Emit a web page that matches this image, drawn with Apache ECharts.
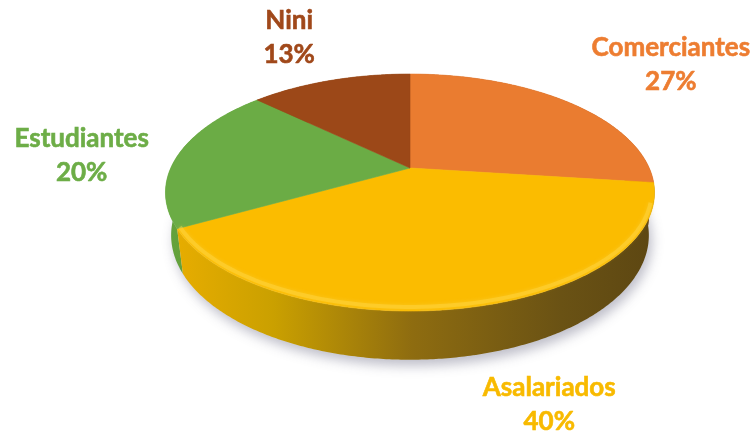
<!DOCTYPE html>
<html>
<head>
<meta charset="utf-8">
<script src="https://cdn.jsdelivr.net/npm/echarts/dist/echarts.min.js"></script>
<style>
  html, body { margin: 0; padding: 0; background: #ffffff; }
  #chart { width: 755px; height: 437px; }
</style>
</head>
<body>
<div id="chart"></div>
<script>
// Slices, clockwise from 12 o'clock
const categories = ['Comerciantes', 'Asalariados', 'Estudiantes', 'Nini'];
const shares = [27, 40, 20, 13];

// Appearance of each slice (top face, side wall, label)
const topColors = ['#EA7C30', '#FBBC00', '#6BAC45', '#9C4818'];
const labelColors = ['#ED7D31', '#F8BA00', '#6DAD47', '#A0481A'];
const sideStops = [
  [[0, '#c0621f'], [1, '#9a4a15']],
  [[0, '#eaae00'], [0.22, '#caa000'], [0.5, '#8e6c10'], [0.8, '#6a5214'], [1, '#5c4612']],
  [[0, '#64a23c'], [1, '#4e8a2c']],
  [[0, '#86400f'], [1, '#70350c']]
];
// Label block offset from the slice's rim point (px)
const labelNudge = [[103, -37], [83, 97], [-97, 1], [-41, -43]];

// Tilted-disc projection
const CX = 410, CY = 168;        // screen position of the disc centre
const K = 1018;                  // focal scale
const R = 0.235, H = 0.048;      // disc radius and thickness (camera distance = 1)
const TILT = 28.3 * Math.PI / 180;
const sinT = Math.sin(TILT), cosT = Math.cos(TILT);

function project(theta, bottom) {
  const x = R * Math.sin(theta);
  const z = -R * Math.cos(theta);
  const y = bottom ? -H : 0;
  const sy = y * cosT - z * sinT;
  const depth = 1 - (y * sinT + z * cosT);
  return [CX + K * x / depth, CY - K * sy / depth];
}

function arc(a1, a2, bottom) {
  const pts = [];
  const n = Math.max(4, Math.ceil(Math.abs(a2 - a1) / 0.01));
  for (let i = 0; i <= n; i++) pts.push(project(a1 + (a2 - a1) * i / n, bottom));
  return pts;
}

const total = shares.reduce((s, v) => s + v, 0);
const starts = [];
shares.reduce((acc, v, i) => { starts[i] = acc; return acc + v; }, 0);

function renderSlice(params, api) {
  const i = params.dataIndex;
  const v = api.value(0);
  const a1 = starts[i] / total * Math.PI * 2;
  const a2 = (starts[i] + v) / total * Math.PI * 2;
  const mid = (a1 + a2) / 2;
  const children = [];

  if (i === 0) {
    // soft drop shadow under the whole disc
    children.push({
      type: 'polygon',
      shape: { points: arc(0, Math.PI * 2, true) },
      style: {
        fill: '#d8d8e0',
        shadowColor: 'rgba(70,70,100,0.35)',
        shadowBlur: 12,
        shadowOffsetX: 3,
        shadowOffsetY: 6
      },
      z2: 1
    });
  }

  // side wall
  const topEdge = arc(a1, a2, false);
  const botEdge = arc(a2, a1, true);
  children.push({
    type: 'polygon',
    shape: { points: topEdge.concat(botEdge) },
    style: {
      fill: new echarts.graphic.LinearGradient(165, 0, 660, 0,
        sideStops[i].map(s => ({ offset: s[0], color: s[1] })), true)
    },
    z2: 10 - Math.cos(mid) * 5
  });

  // top face
  children.push({
    type: 'polygon',
    shape: { points: [[CX, CY]].concat(topEdge) },
    style: { fill: topColors[i], stroke: topColors[i], lineWidth: 0.6 },
    z2: 30
  });

  // soft bevel along the front rim
  if (Math.cos(mid) < 0) {
    const lo = Math.max(a1, Math.PI / 2 + 0.3), hi = Math.min(a2, Math.PI * 1.5 - 0.15);
    if (hi > lo) {
      const pts = [];
      const n = 80;
      for (let k = 0; k <= n; k++) {
        const p = project(lo + (hi - lo) * k / n, false);
        pts.push([CX + (p[0] - CX) * 0.988, CY + (p[1] - CY) * 0.972]);
      }
      children.push({
        type: 'polyline',
        shape: { points: pts },
        style: {
          stroke: 'rgba(255,214,70,0.45)', lineWidth: 4, fill: null,
          shadowColor: 'rgba(255,220,90,0.7)', shadowBlur: 4
        },
        z2: 31
      });
    }
  }

  // label
  const rim = project(mid, false);
  children.push({
    type: 'text',
    style: {
      x: rim[0] + labelNudge[i][0],
      y: rim[1] + labelNudge[i][1],
      text: categories[i] + '\n' + Math.round(v / total * 100) + '%',
      fill: labelColors[i],
      stroke: labelColors[i],
      lineWidth: 0.6,
      fontFamily: 'Lato',
      fontWeight: 'bold',
      fontSize: 26,
      lineHeight: 34,
      align: 'center',
      verticalAlign: 'middle'
    },
    z2: 50
  });

  return { type: 'group', children };
}

const chart = echarts.init(document.getElementById('chart'), null, { renderer: 'canvas' });
chart.setOption({
  backgroundColor: '#ffffff',
  animation: false,
  series: [{
    type: 'custom',
    coordinateSystem: 'none',
    renderItem: renderSlice,
    data: categories.map((c, i) => ({ name: c, value: shares[i] }))
  }]
});
</script>
</body>
</html>
